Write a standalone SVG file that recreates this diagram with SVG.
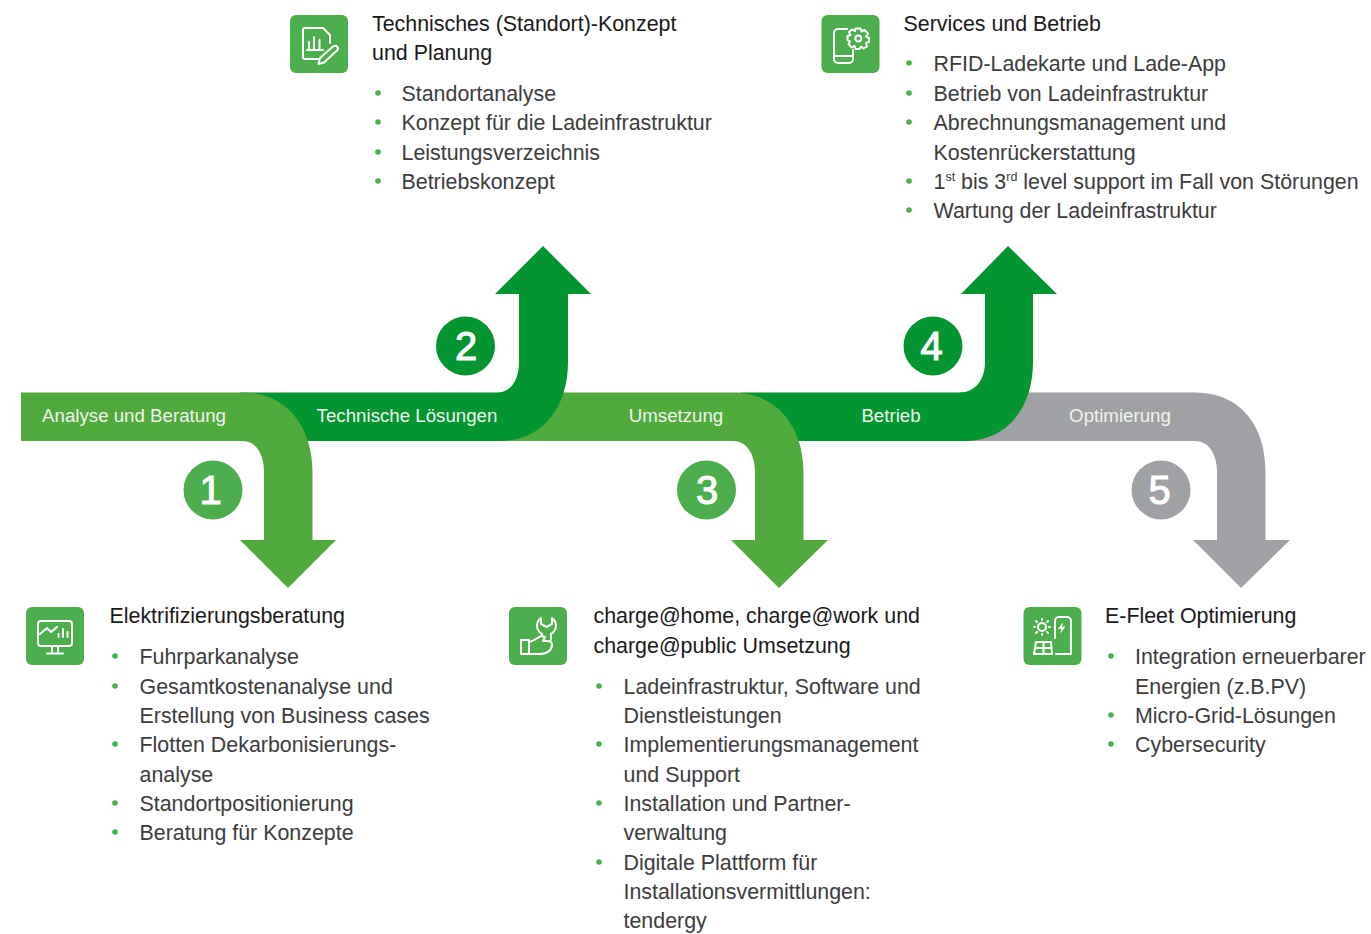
<svg xmlns="http://www.w3.org/2000/svg" width="1371" height="934" viewBox="0 0 1371 934">
<style>
text{font-family:"Liberation Sans",Arial,sans-serif}
.h{font-size:21.400px;fill:#1a1a1a}
.l{font-size:21.400px;fill:#3c3c3c}
.b{font-size:18.700px;fill:#f1f5ee;text-anchor:middle}
.n{font-size:40px;fill:#fff;stroke:#fff;stroke-width:1.1;text-anchor:middle}
.d{fill:#4cae4c}
.t{fill:#4cae4c}
.i{fill:none;stroke:#fff;stroke-width:2;stroke-linecap:round;stroke-linejoin:round}
.lg{fill:#50aa3c}.dg{fill:#029530}.gr{fill:#a0a1a4}
</style>
<g id="connectors">
<path id="arrow5" class="gr" d="M960 392.500H1195C1240 392.500 1265.500 425 1265.500 472V540H1290L1241 588L1193 540H1217V472C1217 453 1208 441 1195 441H960Z"/>
<path id="arrow4" class="dg" d="M740 392.500H960C975 392.500 985 380 985 362V294H961L1008 246L1057 294H1033V362C1033 410 1005 441 965 441H740Z"/>
<path id="arrow3" class="lg" d="M500 392.500H733C775 392.500 803.500 425 803.500 472V540H828L779 588L731 540H755V472C755 453 746 441 733 441H500Z"/>
<path id="arrow2" class="dg" d="M240 392.500H497C511 392.500 519 380 519 362V294H495L543 246L591 294H568V362C568 410 540 441 500 441H240Z"/>
<path id="arrow1" class="lg" d="M21 392.500H243C285 392.500 312.500 425 312.500 472V540H336L288 588L240 540H264V472C264 453 255 441 243 441H21Z"/>
<text class="b" x="134" y="422">Analyse und Beratung</text>
<text class="b" x="407" y="422">Technische Lösungen</text>
<text class="b" x="676" y="422">Umsetzung</text>
<text class="b" x="891" y="422">Betrieb</text>
<text class="b" x="1120" y="422">Optimierung</text>
</g>
<g id="badge1"><circle cx="213" cy="490" r="29.500" fill="#4cae4c"/><text class="n" x="210.500" y="504">1</text></g>
<g id="badge2"><circle cx="465.500" cy="346" r="29.500" fill="#029530"/><text class="n" x="466" y="360">2</text></g>
<g id="badge3"><circle cx="706.500" cy="490" r="29.500" fill="#4cae4c"/><text class="n" x="707" y="504">3</text></g>
<g id="badge4"><circle cx="933" cy="346" r="29.500" fill="#029530"/><text class="n" x="931.500" y="360">4</text></g>
<g id="badge5"><circle cx="1161" cy="490" r="29.500" fill="#a0a1a4"/><text class="n" x="1159.500" y="504">5</text></g>

<g id="node-technisches-konzept">
<rect class="t" x="290" y="15" width="58" height="58" rx="6"/>
<path class="i" d="M330 43V35L323 28H305a2 2 0 0 0-2 2V57a2 2 0 0 0 2 2H318M309 49V42M314 49V37M319.500 49V40M307 50H323"/>
<path class="i" d="M320 58L333 46.500a2.800 2.800 0 0 1 4 4L324 62.500L318.500 64Z"/>
<text class="h" x="372" y="31">Technisches (Standort)-Konzept</text>
<text class="h" x="372" y="60">und Planung</text>
<g class="d"><circle cx="378" cy="93" r="2.800"/><circle cx="378" cy="122" r="2.800"/><circle cx="378" cy="152" r="2.800"/><circle cx="378" cy="181" r="2.800"/></g>
<text class="l" x="401.500" y="101">Standortanalyse</text>
<text class="l" x="401.500" y="130">Konzept für die Ladeinfrastruktur</text>
<text class="l" x="401.500" y="160">Leistungsverzeichnis</text>
<text class="l" x="401.500" y="189">Betriebskonzept</text>
</g>

<g id="node-services-betrieb">
<rect class="t" x="821.500" y="15" width="58" height="58" rx="6"/>
<path class="i" d="M847 29H838a4 4 0 0 0-4 4V59a4 4 0 0 0 4 4H849a4 4 0 0 0 4-4V50M834 56H853"/>
<path class="i" d="M855.500 28.500L860.500 28.500L861.500 31.500L864.500 30L868 33.500L866 36.500L869 38L869 42L866 43L867 46.500L863.500 48.500L861 46.500L859.500 49L855.500 49L854.500 46L851.500 47.500L848.500 44L850 41.500L847.500 40L847.500 36L850.500 35L849 32L852 29.500L855 31Z"/>
<circle class="i" cx="858.300" cy="38.500" r="3"/>
<text class="h" x="903.500" y="31">Services und Betrieb</text>
<g class="d"><circle cx="909" cy="63" r="2.800"/><circle cx="909" cy="93" r="2.800"/><circle cx="909" cy="122" r="2.800"/><circle cx="909" cy="181" r="2.800"/><circle cx="909" cy="210" r="2.800"/></g>
<text class="l" x="933.500" y="71">RFID-Ladekarte und Lade-App</text>
<text class="l" x="933.500" y="101">Betrieb von Ladeinfrastruktur</text>
<text class="l" x="933.500" y="130">Abrechnungsmanagement und</text>
<text class="l" x="933.500" y="159.500">Kostenrückerstattung</text>
<text class="l" x="933.500" y="189">1<tspan font-size="12.500" dy="-8">st</tspan><tspan dy="8"> bis 3</tspan><tspan font-size="12.500" dy="-8">rd</tspan><tspan dy="8"> level support im Fall von Störungen</tspan></text>
<text class="l" x="933.500" y="218">Wartung der Ladeinfrastruktur</text>
</g>

<g id="node-elektrifizierung">
<rect class="t" x="26" y="607" width="58" height="58" rx="6"/>
<path class="i" d="M41 621H69a3 3 0 0 1 3 3V643a3 3 0 0 1-3 3H41a3 3 0 0 1-3-3V624a3 3 0 0 1 3-3ZM52 646V653M58 646V653M47 653.500H63"/>
<path class="i" d="M40 634L47 628L51 632L57 627M58.500 637V634M63 637V629M67.500 637V632"/>
<text class="h" x="109.500" y="623">Elektrifizierungsberatung</text>
<g class="d"><circle cx="115" cy="656" r="2.800"/><circle cx="115" cy="686" r="2.800"/><circle cx="115" cy="744" r="2.800"/><circle cx="115" cy="803" r="2.800"/><circle cx="115" cy="832" r="2.800"/></g>
<text class="l" x="139.500" y="664">Fuhrparkanalyse</text>
<text class="l" x="139.500" y="694">Gesamtkostenanalyse und</text>
<text class="l" x="139.500" y="723">Erstellung von Business cases</text>
<text class="l" x="139.500" y="752">Flotten Dekarbonisierungs-</text>
<text class="l" x="139.500" y="782">analyse</text>
<text class="l" x="139.500" y="811">Standortpositionierung</text>
<text class="l" x="139.500" y="840">Beratung für Konzepte</text>
</g>

<g id="node-umsetzung">
<rect class="t" x="509" y="607" width="58" height="58" rx="6"/>
<path class="i" d="M521 640H529V654H521ZM529 642C534 641 537 638 541 636L545 637L543 641C547 641 552 640 552 645C552 650 547 654 541 654H529"/>
<path class="i" d="M542 636V634A9.500 9.500 0 0 1 541 618V624L546.500 627L552 624V618A9.500 9.500 0 0 1 551 634V640"/>
<text class="h" x="593.500" y="623">charge@home, charge@work und</text>
<text class="h" x="593.500" y="653">charge@public Umsetzung</text>
<g class="d"><circle cx="599" cy="686" r="2.800"/><circle cx="599" cy="744" r="2.800"/><circle cx="599" cy="803" r="2.800"/><circle cx="599" cy="862" r="2.800"/></g>
<text class="l" x="623.500" y="694">Ladeinfrastruktur, Software und</text>
<text class="l" x="623.500" y="723">Dienstleistungen</text>
<text class="l" x="623.500" y="752">Implementierungsmanagement</text>
<text class="l" x="623.500" y="782">und Support</text>
<text class="l" x="623.500" y="811">Installation und Partner-</text>
<text class="l" x="623.500" y="840">verwaltung</text>
<text class="l" x="623.500" y="870">Digitale Plattform für</text>
<text class="l" x="623.500" y="899">Installationsvermittlungen:</text>
<text class="l" x="623.500" y="928">tendergy</text>
</g>

<g id="node-optimierung">
<rect class="t" x="1023.500" y="607" width="58" height="58" rx="6"/>
<circle class="i" cx="1042" cy="627" r="4"/>
<path class="i" d="M1042 619V620M1042 634V635M1034 627H1035M1049 627H1050M1036 621L1037 622M1047 632L1048 633M1036 633L1037 632M1047 622L1048 621"/>
<path class="i" d="M1036 642H1051L1052 654H1034ZM1043.500 642V654M1035 648H1051.500"/>
<path class="i" d="M1055 638V621a4 4 0 0 1 4-4H1067a4 4 0 0 1 4 4V654H1056"/>
<path d="M1063 622L1058 629H1061.500L1060 634L1065.500 626.500H1062Z" fill="#fff"/>
<text class="h" x="1105" y="623">E-Fleet Optimierung</text>
<g class="d"><circle cx="1111" cy="656" r="2.800"/><circle cx="1111" cy="715" r="2.800"/><circle cx="1111" cy="744" r="2.800"/></g>
<text class="l" x="1135" y="664">Integration erneuerbarer</text>
<text class="l" x="1135" y="694">Energien (z.B.PV)</text>
<text class="l" x="1135" y="723">Micro-Grid-Lösungen</text>
<text class="l" x="1135" y="752">Cybersecurity</text>
</g>
</svg>
